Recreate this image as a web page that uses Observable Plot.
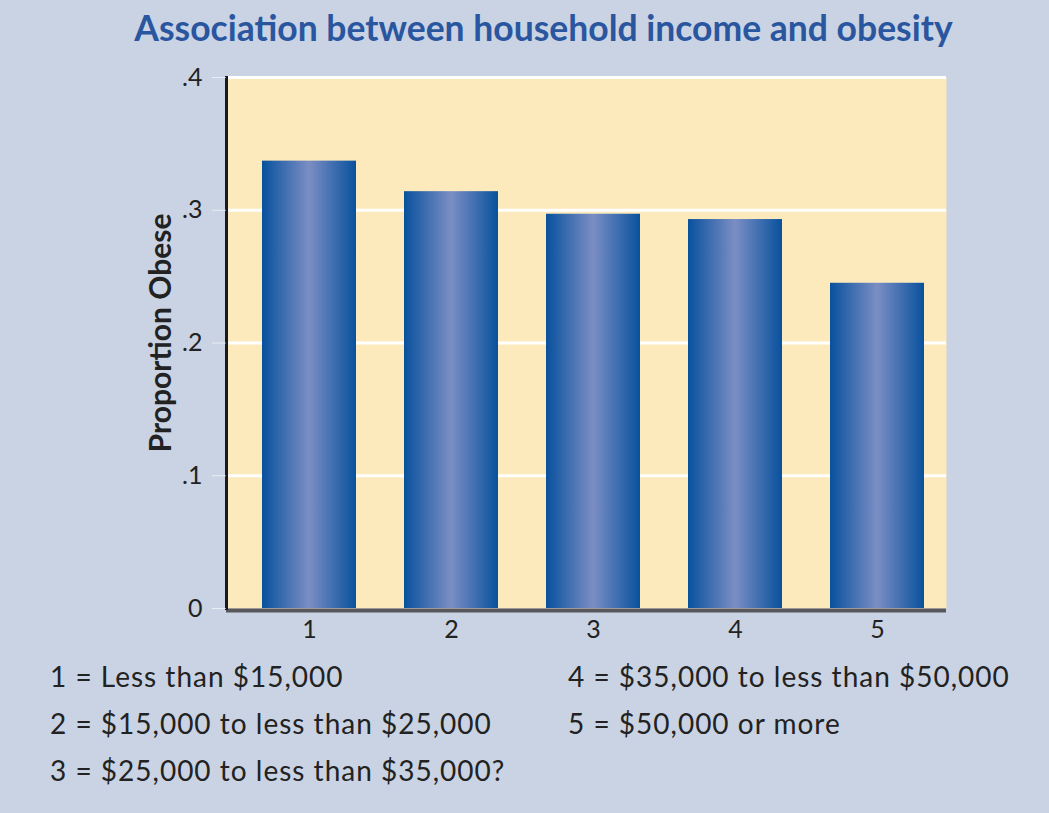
<!DOCTYPE html>
<html>
<head>
<meta charset="utf-8">
<script src="https://cdn.jsdelivr.net/npm/d3@7"></script>
<script src="https://cdn.jsdelivr.net/npm/@observablehq/plot@0.6"></script>
<style>
  html, body { margin: 0; padding: 0; }
  body { width: 1049px; height: 813px; background: #c9d3e3; position: relative; overflow: hidden; font-family: Lato, "DejaVu Sans", sans-serif; }
  #title { position: absolute; left: 100px; width: 887px; top: 4px; text-align: center; font-weight: bold; font-size: 35.5px; line-height: 48px; color: #2a569f; white-space: nowrap; }
  #chart { position: absolute; left: 0; top: 60px; }
  #legend { position: absolute; left: 50px; top: 653px; display: grid; grid-template-columns: 518px auto; grid-template-rows: repeat(3, 47px); grid-auto-flow: column; font-size: 28px; letter-spacing: 1px; color: #222; line-height: 47px; white-space: nowrap; }
</style>
</head>
<body>
<div id="title"></div>
<div id="chart"></div>
<div id="legend"></div>
<script>
const titleText = "Association between household income and obesity";
const yLabel = "Proportion Obese";
const categories = ["1", "2", "3", "4", "5"];
const proportions = [0.337, 0.314, 0.297, 0.293, 0.245];
const yTicks = [0, 0.1, 0.2, 0.3, 0.4];
const legendItems = [
  "1 = Less than $15,000",
  "2 = $15,000 to less than $25,000",
  "3 = $25,000 to less than $35,000?",
  "4 = $35,000 to less than $50,000",
  "5 = $50,000 or more"
];

const data = categories.map((c, i) => ({cat: c, p: proportions[i]}));

document.getElementById("title").textContent = titleText;
const legend = document.getElementById("legend");
legendItems.forEach(t => { const d = document.createElement("div"); d.textContent = t; legend.appendChild(d); });

const fmt = d => d === 0 ? "0" : d.toFixed(1).replace(/^0/, "");

const chart = Plot.plot({
  width: 1049,
  height: 600,
  marginTop: 17,
  marginBottom: 52,
  marginLeft: 226,
  marginRight: 103,
  style: {background: "transparent", fontFamily: "Lato, 'DejaVu Sans', sans-serif", fontSize: "25px", color: "#222"},
  x: {domain: categories, range: [260, 926], paddingInner: 0.336, paddingOuter: 0, label: null},
  y: {domain: [0, 0.4], label: null},
  marks: [
    Plot.frame({fill: "#fdeabc", stroke: null}),
    Plot.ruleY(yTicks.filter(d => d > 0), {stroke: "white", strokeWidth: 3}),
    Plot.barY(data, {x: "cat", y: "p", fill: "url(#barGrad)"}),
    Plot.ruleY([0], {stroke: "#58585c", strokeWidth: 4, dy: 2}),
    Plot.frame({anchor: "left", stroke: "#1c1a18", strokeWidth: 3}),
    Plot.axisY({ticks: yTicks, tickFormat: fmt, tickSize: 14, tickPadding: 10, stroke: "white", strokeOpacity: 0.6, fill: "#222", label: null}),
    Plot.axisX({tickSize: 0, tickPadding: 12, fill: "#222", label: null}),
    Plot.text([yLabel], {frameAnchor: "left", textAnchor: "middle", rotate: -90, dx: -65, dy: -10, fontWeight: "bold", fontSize: 30, fill: "#222"})
  ]
});

const svg = d3.select(chart);
const defs = svg.insert("defs", ":first-child");
const grad = defs.append("linearGradient").attr("id", "barGrad").attr("x1", "0").attr("x2", "1").attr("y1", "0").attr("y2", "0");
grad.append("stop").attr("offset", "0%").attr("stop-color", "#08519d");
grad.append("stop").attr("offset", "50%").attr("stop-color", "#7b8ec4");
grad.append("stop").attr("offset", "100%").attr("stop-color", "#08519d");

document.getElementById("chart").appendChild(chart);
</script>
</body>
</html>
